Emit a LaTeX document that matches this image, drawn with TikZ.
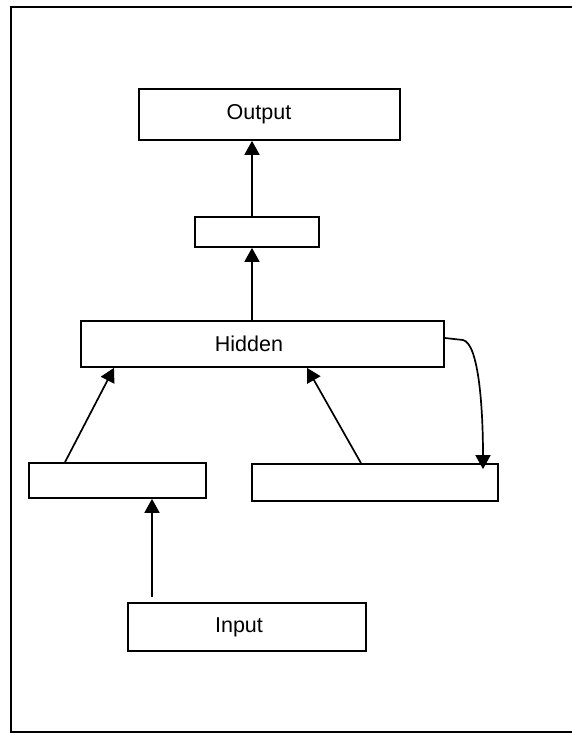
\documentclass[tikz,border=0pt]{standalone}
\usepackage{fontspec}
\setmainfont{Liberation Sans}
\usetikzlibrary{arrows.meta}
\begin{document}
\begin{tikzpicture}[x=1pt,y=-1pt,
  box/.style={draw=black,line width=1.7pt,fill=white,inner sep=0pt,
    font=\fontsize{21.5}{24}\selectfont},
  arr/.style={line width=1.7pt,-{Triangle[length=14pt,width=15pt]}},
  frame/.style={line width=2pt}]
\useasboundingbox (0,0) rectangle (571,733);
\fill[white] (0,0) rectangle (571,733);
\draw[frame] (575,7) -- (11,7) -- (11,732) -- (575,732);
\node[box,minimum width=261pt,minimum height=51pt] (out) at (269.5,114.5) {Output\hspace*{21pt}};
\node[box,minimum width=124pt,minimum height=30pt] (mid) at (257,232) {};
\node[box,minimum width=363pt,minimum height=46pt] (hid) at (262.5,344) {Hidden\hspace*{27pt}};
\node[box,minimum width=177pt,minimum height=35pt] (lb) at (117.5,480.5) {};
\node[box,minimum width=246pt,minimum height=37pt] (rb) at (375,482.5) {};
\node[box,minimum width=238pt,minimum height=48pt] (inp) at (247,627) {Input\hspace*{16pt}};
\draw[arr] ([xshift=-5pt]mid.north) -- ([xshift=-5pt]mid.north |- out.south);
\draw[arr] ([xshift=-10.5pt]hid.north) -- ([xshift=-10.5pt]hid.north |- mid.south);
\draw[arr] ([xshift=-52.5pt]lb.north) -- ([xshift=-148.5pt]hid.south);
\draw[arr] ([xshift=-14pt]rb.north) -- ([xshift=44.5pt]hid.south);
\draw[arr] ([xshift=-95pt,yshift=5pt]inp.north) -- ([xshift=34.5pt]lb.south);
\coordinate (cstart) at ([yshift=6pt]hid.east);
\coordinate (cend) at ([xshift=108pt,yshift=-6pt]rb.north);
\draw[arr] (cstart) -- ++(18,2) .. controls +(16,3) and +(0,-60) .. (cend);
\end{tikzpicture}
\end{document}
